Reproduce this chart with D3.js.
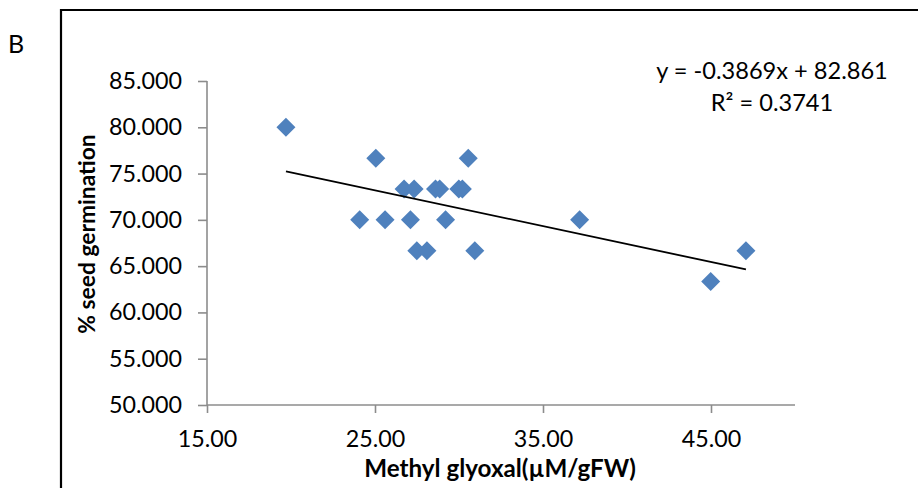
<!DOCTYPE html>
<html>
<head>
<meta charset="utf-8">
<script src="https://cdn.jsdelivr.net/npm/d3@7"></script>
<style>
  html, body { margin: 0; padding: 0; background: #fff; }
  svg { display: block; }
  text { font-family: Lato, "Open Sans", sans-serif; fill: #000; }
</style>
</head>
<body>
<svg id="chart" width="918" height="488"></svg>
<script>
// Data
const xValues = [19.7, 25.05, 30.55, 26.73, 27.33, 28.6, 28.85, 29.99, 30.2, 24.09, 25.6, 27.11, 29.2, 27.49, 28.09, 30.94, 37.18, 44.98, 47.08];
const yValues = [80.0, 76.667, 76.667, 73.333, 73.333, 73.333, 73.333, 73.333, 73.333, 70.0, 70.0, 70.0, 70.0, 66.667, 66.667, 66.667, 70.0, 63.333, 66.667];
const xTicks = [15, 25, 35, 45];
const yTicks = [50, 55, 60, 65, 70, 75, 80, 85];
const trendSlope = -0.3869;
const trendIntercept = 82.861;
const equationText = "y = -0.3869x + 82.861";
const r2Text = "R² = 0.3741";
const panelLabel = "B";
const xTitle = "Methyl glyoxal(µM/gFW)";
const yTitle = "% seed germination";

const svg = d3.select("#chart");
const x = d3.scaleLinear().domain([15, 50]).range([207, 795]);
const y = d3.scaleLinear().domain([50, 85]).range([405, 81]);

// outer frame
svg.append("path")
  .attr("d", "M61,488 L61,10 L918,10")
  .attr("fill", "none").attr("stroke", "#000").attr("stroke-width", 2.2);

svg.append("text").attr("x", 8).attr("y", 53)
  .attr("font-size", 25).text(panelLabel);

const axisColor = "#8c8c8c";

// Y axis
const yAxis = svg.append("g").attr("transform", `translate(${x(15)},0)`)
  .call(d3.axisLeft(y).tickValues(yTicks).tickFormat(d3.format(".3f")).tickSize(9).tickPadding(16));
// X axis
const xAxis = svg.append("g").attr("transform", `translate(0,${y(50)})`)
  .call(d3.axisBottom(x).tickValues(xTicks).tickFormat(d3.format(".2f")).tickSize(8).tickPadding(17));

[yAxis, xAxis].forEach(g => {
  g.select(".domain").attr("stroke", axisColor).attr("stroke-width", 1.6);
  g.selectAll(".tick line").attr("stroke", axisColor).attr("stroke-width", 1.6);
  g.selectAll(".tick text").attr("font-family", "Lato, sans-serif").attr("font-size", 23.3).attr("fill", "#000");
});
yAxis.select(".domain").attr("d", `M0,${y(85)}V${y(50)}`);
xAxis.select(".domain").attr("d", `M${x(15)},0H${x(50)}`);

// Points
const pts = xValues.map((v, i) => ({ x: v, y: yValues[i] }));
const r = 9.5;
svg.append("g").selectAll("path").data(pts).join("path")
  .attr("d", d => `M${x(d.x)},${y(d.y) - r}L${x(d.x) + r},${y(d.y)}L${x(d.x)},${y(d.y) + r}L${x(d.x) - r},${y(d.y)}Z`)
  .attr("fill", "#4f81bd");

// Trend line
const xMin = d3.min(xValues), xMax = d3.max(xValues);
svg.append("line")
  .attr("x1", x(xMin)).attr("y1", y(trendSlope * xMin + trendIntercept))
  .attr("x2", x(xMax)).attr("y2", y(trendSlope * xMax + trendIntercept))
  .attr("stroke", "#000").attr("stroke-width", 1.8);

// Equation
svg.append("text").attr("x", 772).attr("y", 79).attr("text-anchor", "middle")
  .attr("font-size", 23.6).text(equationText);
svg.append("text").attr("x", 772).attr("y", 111).attr("text-anchor", "middle")
  .attr("font-size", 23.6).text(r2Text);

// Axis titles
svg.append("text").attr("x", 500).attr("y", 477).attr("text-anchor", "middle")
  .attr("font-size", 24.2).attr("font-weight", "bold").text(xTitle);
svg.append("text").attr("transform", "translate(95,234) rotate(-90)").attr("text-anchor", "middle")
  .attr("font-size", 22.8).attr("font-weight", "bold").text(yTitle);
</script>
</body>
</html>
